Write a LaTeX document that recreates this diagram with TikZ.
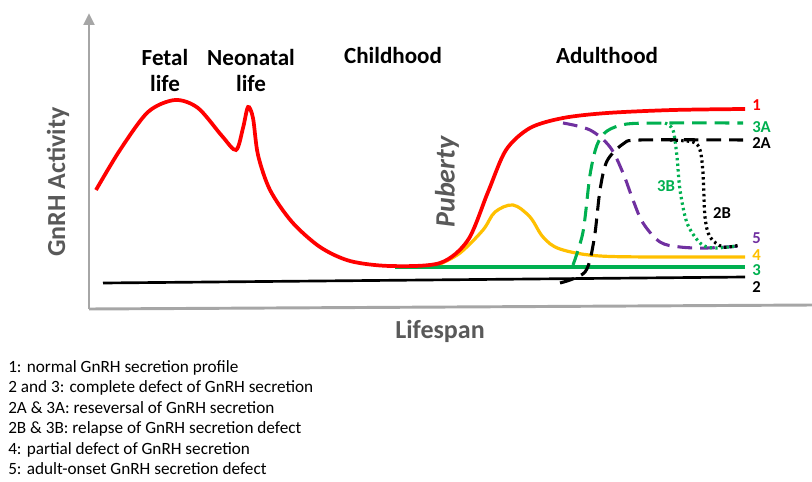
\documentclass[tikz,border=0pt]{standalone}
\usepackage{fontspec}
\setmainfont{Carlito}
\usetikzlibrary{arrows.meta}
\definecolor{cred}{HTML}{FF0000}
\definecolor{cgreen}{HTML}{00B050}
\definecolor{cyellow}{HTML}{FFC000}
\definecolor{cpurple}{HTML}{7030A0}
\definecolor{caxis}{HTML}{A6A6A6}
\definecolor{ctext}{HTML}{595959}
\begin{document}
\begin{tikzpicture}[x=0.75pt,y=-0.75pt,
  axisline/.style={draw=caxis,line width=2.2pt},
  axislabel/.style={font=\fontsize{19.5}{22}\selectfont\bfseries,text=ctext,inner sep=0pt},
  phase/.style={font=\fontsize{17.3}{19.5}\selectfont\bfseries,align=center,inner sep=0pt},
  curvelab/.style={font=\fontsize{12.5}{14}\selectfont\bfseries,inner sep=0pt,anchor=west},
  legendtxt/.style={font=\fontsize{12.9}{15.4}\selectfont,align=left,anchor=north west,inner sep=0pt},
  dashline/.style={line width=2.3pt,dash pattern=on 11pt off 6pt},
  dotline/.style={line width=2.4pt,dash pattern=on 1.8pt off 2.4pt},
  solidline/.style={line width=2.4pt}]
\useasboundingbox (0,0) rectangle (812,481);
% axes
\coordinate (O) at (89,309);
\coordinate (ytop) at (89,13);
\coordinate (xend) at (812,305);
\draw[axisline,-{Triangle[length=9pt,width=8pt]}] (O) -- (ytop);
\draw[axisline] (O) -- (xend);
\node[axislabel,rotate=90] (ylab) at (58,182) {GnRH Activity};
\node[axislabel] (xlab) at (440,331) {Lifespan};
% phase labels
\node[phase] (fetal) at (165,70) {Fetal\\life};
\node[phase] (neo) at (251,70) {Neonatal\\life};
\node[phase] (child) at (393,55) {Childhood};
\node[phase] (adult) at (607,55) {Adulthood};
\node[phase,rotate=90,text=ctext,font=\fontsize{21}{24}\selectfont\bfseries\itshape] (pub) at (447,182) {Puberty};
% curve 2 black solid
\draw[solidline,black,line width=2pt] (103,283) -- (745,277);
% curve 3 green solid
\draw[solidline,cgreen,line width=2.8pt] (395,267) -- (745,267);
% curve 4 yellow
\draw[solidline,cyellow] plot[smooth,tension=0.55] coordinates {(440,264) (460,253) (483,230) (495,212) (513,205) (530,217) (543,237) (560,249) (600,256) (680,257) (745,257)};
% curve 1 red
\draw[cred,line width=2.8pt] plot[smooth,tension=0.5] coordinates {(96,190) (120,150) (148,112) (175,100) (198,108) (222,136) (236,150) (243,128) (248,107) (253,118) (258,155) (270,190) (292,222) (320,247) (350,261) (390,266) (440,263) (468,240) (488,192) (506,150) (530,128) (563,118) (607,113) (673,110) (745,109)};
% curve 5 purple dashed
\draw[dashline,cpurple] plot[smooth,tension=0.55] coordinates {(563,123) (590,130) (610,147) (623,173) (633,200) (643,223) (660,242) (680,247) (707,248) (740,246)};
% curve 3A green dashed
\draw[dashline,cgreen] plot[smooth,tension=0.5] coordinates {(573,265) (583,232) (590,175) (597,145) (607,131) (627,124) (667,123) (743,123)};
% curve 2A black dashed
\draw[dashline,black] plot[smooth,tension=0.5] coordinates {(560,283) (585,272) (594,240) (600,190) (607,161) (623,144) (640,140) (743,140)};
% curve 3B green dotted
\draw[dotline,cgreen] plot[smooth,tension=0.5] coordinates {(665,123) (673,130) (677,157) (680,190) (687,223) (700,243) (713,248) (737,246)};
% curve 2B black dotted
\draw[dotline,black] plot[smooth,tension=0.5] coordinates {(670,140) (693,142) (700,150) (703,173) (705,217) (710,237) (723,247) (740,245)};
% curve labels
\node[curvelab,text=cred] (l1) at (752,105) {1};
\node[curvelab,text=cgreen] (l3a) at (752,127) {3A};
\node[curvelab,text=black] (l2a) at (752,143) {2A};
\node[curvelab,text=cgreen,anchor=center] (l3b) at (666,186) {3B};
\node[curvelab,text=black,anchor=center] (l2b) at (722,213) {2B};
\node[curvelab,text=cpurple] (l5) at (752,238) {5};
\node[curvelab,text=cyellow] (l4) at (752,255) {4};
\node[curvelab,text=cgreen] (l3) at (752,270) {3};
\node[curvelab,text=black] (l2) at (752,287) {2};
% legend
\node[legendtxt] (legend) at (8,360) {1: normal GnRH secretion profile\\
2 and 3: complete defect of GnRH secretion\\
2A \& 3A: reseversal of GnRH secretion\\
2B \& 3B: relapse of GnRH secretion defect\\
4: partial defect of GnRH secretion\\
5: adult-onset GnRH secretion defect};
\end{tikzpicture}
\end{document}
